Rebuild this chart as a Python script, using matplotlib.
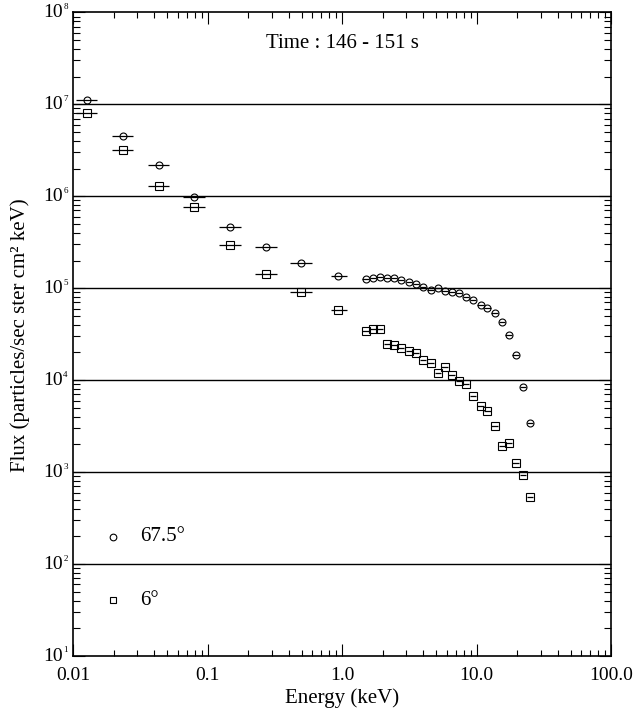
import numpy as np
import matplotlib
matplotlib.use("Agg")
import matplotlib.pyplot as plt
from matplotlib.ticker import LogLocator, NullFormatter, FixedLocator, FixedFormatter

plt.rcParams['font.family'] = ['Liberation Serif', 'DejaVu Serif']

# low energy channels (keV) with bin edges
lo_energy = [0.0126, 0.0235, 0.0436, 0.0794, 0.146, 0.270, 0.493, 0.927]
lo_elow = [0.0105, 0.0194, 0.0357, 0.0657, 0.122, 0.224, 0.408, 0.818]
lo_ehigh = [0.0149, 0.0276, 0.0517, 0.0956, 0.176, 0.325, 0.591, 1.088]
flux_675_lo = [1.12e7, 4.56e6, 2.19e6, 9.75e5, 4.68e5, 2.79e5, 1.87e5, 1.37e5]
flux_6_lo = [8.1e6, 3.16e6, 1.29e6, 7.6e5, 2.95e5, 1.43e5, 9.2e4, 5.8e4]

# high energy channels (keV)
hi_energy = [1.49, 1.69, 1.90, 2.16, 2.42, 2.75, 3.13, 3.55, 4.0, 4.53,
             5.14, 5.76, 6.50, 7.36, 8.35, 9.42, 10.7, 12.0, 13.6, 15.5,
             17.3, 19.5, 22.0, 25.0]
hi_halfwidth = 0.055  # fractional half bin width
flux_675_hi = [1.25e5, 1.30e5, 1.34e5, 1.30e5, 1.28e5, 1.24e5, 1.16e5, 1.10e5, 1.03e5, 9.6e4,
               1.0e5, 9.35e4, 9.2e4, 8.8e4, 8.1e4, 7.5e4, 6.6e4, 6.15e4, 5.35e4, 4.27e4,
               3.1e4, 1.87e4, 8.45e3, 3.4e3]
flux_6_hi = [3.46e4, 3.58e4, 3.58e4, 2.46e4, 2.42e4, 2.23e4, 2.08e4, 1.98e4, 1.66e4, 1.53e4,
             1.19e4, 1.39e4, 1.13e4, 9.8e3, 9.05e3, 6.7e3, 5.2e3, 4.6e3, 3.2e3, 1.92e3,
             2.09e3, 1.25e3, 940, 530]

x_ticks = [0.01, 0.1, 1.0, 10.0, 100.0]
x_ticklabels = ['0.01', '0.1', '1.0', '10.0', '100.0']
decades = [1, 2, 3, 4, 5, 6, 7, 8]
grid_decades = [2, 3, 4, 5, 6, 7]

fig = plt.figure(figsize=(6.35, 7.08), dpi=100)
ax = fig.add_axes([0.1154, 0.0734, 0.8472, 0.9092])
ax.set_xscale('log')
ax.set_yscale('log')
ax.set_xlim(0.01, 100)
ax.set_ylim(10, 1e8)

for d in grid_decades:
    ax.axhline(10.0 ** d, color='black', lw=1.0, zorder=1)

lo_e = np.array(lo_energy)
lo_xerr = [lo_e - np.array(lo_elow), np.array(lo_ehigh) - lo_e]
hi_e = np.array(hi_energy)
hi_xerr = [hi_e * hi_halfwidth, hi_e * hi_halfwidth]

style = dict(mfc='none', mec='black', ecolor='black', elinewidth=0.9,
             capsize=0, ls='none', mew=0.8, zorder=3)
ax.errorbar(lo_energy, flux_675_lo, xerr=lo_xerr, marker='o', ms=5, **style)
ax.errorbar(lo_energy, flux_6_lo, xerr=lo_xerr, marker='s', ms=5.3, **style)
ax.errorbar(hi_energy, flux_675_hi, xerr=hi_xerr, marker='o', ms=5, **style)
ax.errorbar(hi_energy, flux_6_hi, xerr=hi_xerr, marker='s', ms=5.3, **style)

# ticks
ax.xaxis.set_major_locator(FixedLocator(x_ticks))
ax.xaxis.set_major_formatter(FixedFormatter(x_ticklabels))
ax.xaxis.set_minor_locator(LogLocator(base=10, subs=np.arange(2, 10), numticks=20))
ax.xaxis.set_minor_formatter(NullFormatter())
ax.yaxis.set_major_locator(FixedLocator([10.0 ** d for d in decades]))
ax.yaxis.set_minor_locator(LogLocator(base=10, subs=np.arange(2, 10), numticks=20))
ax.yaxis.set_major_formatter(NullFormatter())
ax.yaxis.set_minor_formatter(NullFormatter())
ax.tick_params(which='both', direction='in', top=True, right=True, width=0.8, color='black')
ax.tick_params(which='major', length=8.5)
ax.tick_params(axis='x', which='minor', length=4)
ax.tick_params(axis='y', which='minor', length=5)
ax.tick_params(axis='x', which='major', labelsize=14, pad=8)
for sp in ax.spines.values():
    sp.set_linewidth(1.2)

# y tick labels with small exponent
for d in decades:
    ax.annotate('10', xy=(0, 10.0 ** d), xycoords=('axes fraction', 'data'),
                xytext=(-7.5, 0), textcoords='offset points',
                ha='right', va='center', fontsize=14)
    ax.annotate(str(d), xy=(0, 10.0 ** d), xycoords=('axes fraction', 'data'),
                xytext=(-7.2, 4), textcoords='offset points',
                ha='left', va='center', fontsize=6.5)

ax.text(0.5, 0.951, 'Time : 146 - 151 s', transform=ax.transAxes,
        ha='center', va='center', fontsize=15)

# legend
ax.plot([0.0743], [0.1853], transform=ax.transAxes, marker='o', ms=4.8,
        mfc='none', mec='black', mew=0.8, ls='none')
ax.text(0.125, 0.1853, '67.5°', transform=ax.transAxes, ha='left', va='center', fontsize=15)
ax.plot([0.0743], [0.087], transform=ax.transAxes, marker='s', ms=5,
        mfc='none', mec='black', mew=0.8, ls='none')
ax.text(0.125, 0.087, '6°', transform=ax.transAxes, ha='left', va='center', fontsize=15)

ax.set_xlabel('Energy (keV)', fontsize=15)
ax.xaxis.set_label_coords(0.5, -0.05)
fig.text(20 / 635, 0.527, 'Flux (particles/sec ster cm² keV)', rotation=90,
         ha='center', va='center', fontsize=15)

fig.savefig('out.png', dpi=100)
